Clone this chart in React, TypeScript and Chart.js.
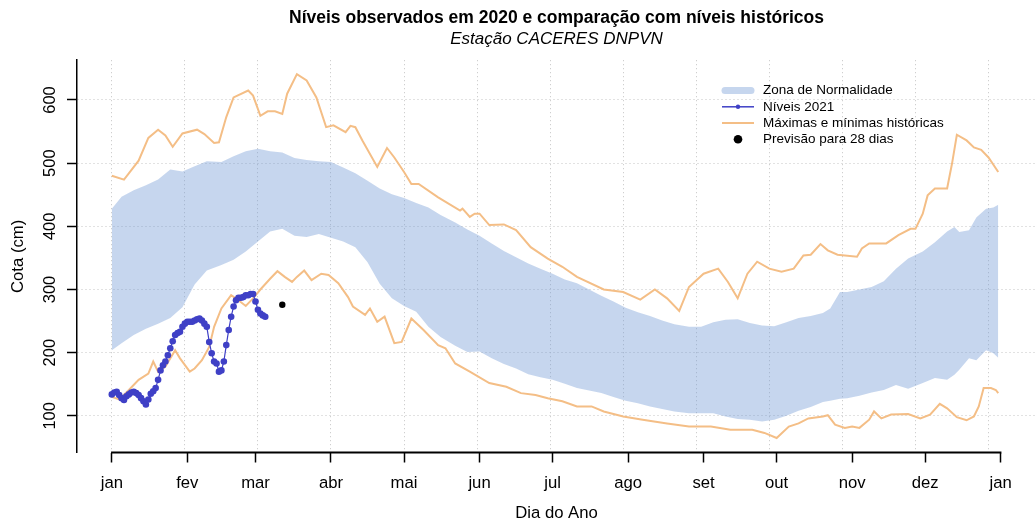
import React, { useEffect, useRef } from "react";
import { Chart, registerables } from "chart.js";

Chart.register(...registerables);

const FONT = '"Liberation Sans", Arial, Helvetica, sans-serif';

const TITLE = "Níveis observados em 2020 e comparação com níveis históricos";
const SUBTITLE = "Estação CACERES DNPVN";
const X_TITLE = "Dia do Ano";
const Y_TITLE = "Cota (cm)";

const MONTH_DAYS = [1, 32, 60, 91, 121, 152, 182, 213, 244, 274, 305, 335, 366];
const MONTH_LABELS = ["jan", "fev", "mar", "abr", "mai", "jun", "jul", "ago", "set", "out", "nov", "dez", "jan"];
const GRID_DAYS = [1, 31, 61, 91, 121, 151, 181, 211, 241, 271, 301, 331, 361];
const Y_TICKS = [100, 200, 300, 400, 500, 600];
const X_MIN = -13.3;
const X_MAX = 380.5;
const Y_MIN = 42;
const Y_MAX = 663;

const LEGEND_LABELS = ["Zona de Normalidade", "Níveis 2021", "Máximas e mínimas históricas", "Previsão para 28 dias"];

// Zona de normalidade (upper / lower limits)
const BAND_DAYS = [1, 5, 10, 15, 20, 25, 30, 35, 40, 46, 51, 56, 61, 66, 71, 76, 81, 86, 91, 96, 101, 106, 111, 116, 121, 126, 131, 136, 142, 147, 152, 157, 162, 167, 172, 177, 182, 187, 192, 197, 202, 207, 212, 217, 222, 227, 232, 238, 243, 248, 253, 258, 263, 268, 273, 278, 283, 288, 293, 296, 300, 303, 308, 313, 318, 323, 328, 334, 339, 344, 347, 349, 353, 356, 360, 363, 365];
const BAND_UPPER = [428, 447, 457, 465, 474, 490, 487, 495, 503, 502, 511, 519, 523, 519, 517, 508, 505, 503, 502, 493, 484, 472, 460, 451, 445, 437, 430, 418, 406, 395, 385, 373, 361, 351, 341, 333, 325, 316, 310, 300, 290, 281, 271, 264, 258, 251, 245, 241, 241, 248, 252, 253, 247, 243, 242, 248, 255, 258, 263, 270, 296, 296, 300, 304, 313, 333, 349, 360, 375, 392, 399, 391, 394, 414, 428, 430, 434];
const BAND_LOWER = [204, 215, 228, 238, 246, 255, 272, 308, 330, 339, 347, 360, 376, 392, 396, 385, 383, 388, 382, 376, 367, 343, 309, 286, 274, 265, 241, 225, 211, 201, 202, 191, 182, 175, 166, 161, 157, 151, 144, 140, 136, 130, 124, 120, 115, 111, 107, 104, 104, 104, 99, 95, 94, 91, 94, 100, 108, 114, 122, 124, 127, 128, 132, 137, 141, 149, 143, 152, 160, 157, 165, 173, 191, 188, 204, 199, 192];

// Máximas históricas
const MAX_DAYS = [1, 6, 12, 16, 20, 23, 26, 30, 36, 39, 43, 45, 48, 51, 57, 59, 62, 65, 68, 71, 73, 77, 81, 85, 89, 92, 97, 99, 101, 104, 110, 114, 117, 121, 124, 127, 135, 144, 145, 148, 150, 152, 156, 162, 167, 173, 180, 186, 192, 203, 211, 218, 224, 229, 234, 238, 244, 250, 254, 258, 262, 266, 271, 276, 281, 285, 288, 292, 295, 299, 307, 309, 312, 319, 324, 329, 331, 334, 336, 339, 344, 346, 348, 352, 355, 358, 361, 365];
const MAX_VALUES = [480, 474, 504, 540, 553, 544, 526, 547, 553, 546, 532, 533, 573, 604, 615, 607, 575, 582, 582, 578, 610, 641, 631, 604, 557, 560, 549, 559, 557, 535, 494, 524, 509, 486, 467, 467, 446, 425, 428, 415, 420, 420, 402, 403, 394, 367, 349, 336, 320, 300, 296, 284, 300, 286, 266, 304, 325, 333, 312, 286, 325, 344, 333, 328, 333, 354, 355, 372, 362, 355, 352, 365, 373, 373, 386, 396, 396, 420, 449, 460, 460, 499, 545, 536, 525, 521, 509, 486];

// Mínimas históricas
const MIN_DAYS = [1, 4, 8, 12, 16, 18, 20, 23, 27, 29, 33, 35, 38, 41, 43, 46, 50, 53, 56, 59, 62, 66, 69, 72, 75, 77, 80, 83, 87, 90, 94, 98, 100, 105, 107, 110, 113, 117, 120, 124, 129, 135, 138, 142, 148, 156, 163, 169, 175, 180, 186, 192, 198, 203, 211, 219, 229, 238, 247, 255, 264, 269, 274, 279, 283, 287, 293, 295, 298, 302, 305, 308, 312, 314, 317, 321, 328, 333, 337, 341, 344, 348, 352, 355, 357, 359, 362, 364, 365];
const MIN_VALUES = [130, 126, 141, 157, 167, 186, 170, 178, 204, 191, 170, 175, 188, 209, 241, 270, 291, 283, 274, 286, 300, 317, 329, 320, 312, 320, 330, 315, 325, 323, 310, 288, 273, 260, 270, 249, 257, 215, 217, 254, 236, 212, 207, 183, 170, 152, 146, 136, 133, 128, 123, 115, 115, 107, 99, 94, 88, 83, 83, 78, 78, 73, 65, 83, 88, 96, 99, 101, 86, 81, 83, 81, 94, 107, 96, 102, 103, 96, 102, 119, 112, 98, 93, 99, 115, 144, 144, 141, 136];

// Níveis observados
const LEVEL_DAYS = [1, 2, 3, 4, 5, 6, 7, 8, 9, 10, 11, 12, 13, 14, 15, 16, 17, 18, 19, 20, 21, 22, 23, 24, 25, 26, 27, 28, 29, 30, 31, 32, 33, 34, 35, 36, 37, 38, 39, 40, 41, 42, 43, 44, 45, 46, 47, 48, 49, 50, 51, 52, 53, 54, 55, 56, 57, 58, 59, 60, 61, 62, 63, 64];
const LEVEL_VALUES = [134, 137, 138, 133, 128, 125, 131, 134, 137, 138, 136, 133, 128, 123, 118, 126, 135, 139, 144, 157, 172, 180, 186, 196, 207, 218, 228, 231, 233, 241, 246, 249, 249, 249, 251, 253, 254, 251, 246, 241, 217, 199, 186, 183, 170, 172, 186, 212, 236, 257, 273, 283, 287, 287, 288, 291, 291, 293, 293, 281, 268, 262, 259, 257];

// Previsão
const FORECAST_DAYS = [71];
const FORECAST_VALUES = [276];

const BAND_COLOR = "rgba(112,153,213,0.4)";
const ORANGE = "#F4BE86";
const BLUE = "#3F40C6";
const GRID_COLOR = "#C4C4C4";

const toXY = (xs: number[], ys: number[]) => xs.map((x, i) => ({ x, y: ys[i] }));

const axesPlugin = {
  id: "rAxes",
  afterDraw(chart: any) {
    const ctx = chart.ctx;
    const xs = chart.scales.x;
    const ys = chart.scales.y;
    const bottom = chart.chartArea.bottom;
    ctx.save();
    ctx.strokeStyle = "#000";
    ctx.lineWidth = 2;
    ctx.setLineDash([]);
    ctx.beginPath();
    ctx.moveTo(xs.getPixelForValue(MONTH_DAYS[0]) - 0.75, bottom);
    ctx.lineTo(xs.getPixelForValue(MONTH_DAYS[MONTH_DAYS.length - 1]) + 0.75, bottom);
    ctx.stroke();
    ctx.font = `16.5px ${FONT}`;
    ctx.fillStyle = "#000";
    ctx.textAlign = "center";
    ctx.textBaseline = "middle";
    for (const v of Y_TICKS) {
      const py = ys.getPixelForValue(v);
      ctx.save();
      ctx.translate(ys.right - 27, py);
      ctx.rotate(-Math.PI / 2);
      ctx.fillText(String(v), 0, 0);
      ctx.restore();
    }
    ctx.restore();
  },
};

const legendPlugin = {
  id: "rLegend",
  afterDraw(chart: any) {
    const ctx = chart.ctx;
    const x0 = 722;
    const x1 = 754;
    const xc = (x0 + x1) / 2;
    const tx = 763;
    const rows = [90.5, 106.8, 123, 139.3];
    ctx.save();
    ctx.setLineDash([]);
    ctx.strokeStyle = BAND_COLOR;
    ctx.lineCap = "round";
    ctx.lineWidth = 7;
    ctx.beginPath();
    ctx.moveTo(x0 + 3, rows[0]);
    ctx.lineTo(x1 - 3, rows[0]);
    ctx.stroke();
    ctx.lineCap = "butt";
    ctx.strokeStyle = BLUE;
    ctx.lineWidth = 1.5;
    ctx.beginPath();
    ctx.moveTo(x0, rows[1]);
    ctx.lineTo(x1, rows[1]);
    ctx.stroke();
    ctx.fillStyle = BLUE;
    ctx.beginPath();
    ctx.arc(xc, rows[1], 2.2, 0, Math.PI * 2);
    ctx.fill();
    ctx.strokeStyle = ORANGE;
    ctx.lineWidth = 2;
    ctx.beginPath();
    ctx.moveTo(x0, rows[2]);
    ctx.lineTo(x1, rows[2]);
    ctx.stroke();
    ctx.fillStyle = "#000";
    ctx.beginPath();
    ctx.arc(xc, rows[3], 4.3, 0, Math.PI * 2);
    ctx.fill();
    ctx.font = `13.5px ${FONT}`;
    ctx.fillStyle = "#000";
    ctx.textAlign = "left";
    ctx.textBaseline = "middle";
    LEGEND_LABELS.forEach((t, i) => ctx.fillText(t, tx, rows[i]));
    ctx.restore();
  },
};

export default function App() {
  const ref = useRef<HTMLCanvasElement | null>(null);

  useEffect(() => {
    if (!ref.current) return;
    Chart.defaults.font.family = FONT;
    Chart.defaults.color = "#000";
    const chart = new Chart(ref.current, {
      type: "line",
      data: {
        datasets: [
          {
            label: LEGEND_LABELS[3],
            data: toXY(FORECAST_DAYS, FORECAST_VALUES),
            showLine: false,
            pointRadius: 3.2,
            pointBackgroundColor: "#000",
            pointBorderWidth: 0,
            order: 0,
          },
          {
            label: LEGEND_LABELS[1],
            data: toXY(LEVEL_DAYS, LEVEL_VALUES),
            borderColor: BLUE,
            borderWidth: 1.2,
            pointRadius: 3.3,
            pointBackgroundColor: BLUE,
            pointBorderWidth: 0,
            fill: false,
            tension: 0,
            order: 1,
          },
          {
            label: LEGEND_LABELS[2],
            data: toXY(MAX_DAYS, MAX_VALUES),
            borderColor: ORANGE,
            borderWidth: 2,
            pointRadius: 0,
            fill: false,
            order: 2,
          },
          {
            label: "Mínimas históricas",
            data: toXY(MIN_DAYS, MIN_VALUES),
            borderColor: ORANGE,
            borderWidth: 2,
            pointRadius: 0,
            fill: false,
            order: 2,
          },
          {
            label: LEGEND_LABELS[0],
            data: toXY(BAND_DAYS, BAND_UPPER),
            borderColor: "rgba(0,0,0,0)",
            borderWidth: 0,
            pointRadius: 0,
            backgroundColor: BAND_COLOR,
            fill: "+1",
            order: 3,
          },
          {
            label: "Zona inferior",
            data: toXY(BAND_DAYS, BAND_LOWER),
            borderColor: "rgba(0,0,0,0)",
            borderWidth: 0,
            pointRadius: 0,
            fill: false,
            order: 3,
          },
        ],
      },
      options: {
        responsive: false,
        animation: false,
        devicePixelRatio: 1,
        events: [],
        layout: { padding: 0 },
        plugins: {
          legend: { display: false },
          tooltip: { enabled: false },
          title: {
            display: true,
            text: TITLE,
            fullSize: false,
            color: "#000",
            font: { size: 17.5, weight: "bold", family: FONT, lineHeight: 1.2 },
            padding: { top: 8, bottom: 0 },
          },
          subtitle: {
            display: true,
            text: SUBTITLE,
            fullSize: false,
            color: "#000",
            font: { size: 17, style: "italic", family: FONT, lineHeight: 1.2 },
            padding: { top: 0, bottom: 10.8 },
          },
        },
        scales: {
          x: {
            type: "linear",
            position: "bottom",
            min: X_MIN,
            max: X_MAX,
            afterBuildTicks: (s: any) => {
              s.ticks = MONTH_DAYS.map((v) => ({ value: v }));
            },
            afterFit: (s: any) => {
              s.height = 70.5;
            },
            ticks: {
              autoSkip: false,
              maxRotation: 0,
              minRotation: 0,
              padding: 11,
              color: "#000",
              font: { size: 16.7, family: FONT, lineHeight: 1.2 },
              callback: (_v: any, i: number) => MONTH_LABELS[i],
            },
            grid: {
              display: true,
              drawOnChartArea: false,
              drawTicks: true,
              tickLength: 10,
              tickColor: "#000",
              tickWidth: 1.5,
              tickBorderDash: [],
            },
            border: { display: false },
            title: {
              display: true,
              text: X_TITLE,
              color: "#000",
              font: { size: 16.7, family: FONT, lineHeight: 1.2 },
              padding: { top: 0, bottom: 0 },
            },
          },
          xg: {
            type: "linear",
            position: "bottom",
            min: X_MIN,
            max: X_MAX,
            afterBuildTicks: (s: any) => {
              s.ticks = GRID_DAYS.map((v) => ({ value: v }));
            },
            afterFit: (s: any) => {
              s.height = 0;
            },
            ticks: { display: false },
            grid: {
              display: true,
              drawOnChartArea: true,
              drawTicks: false,
              color: GRID_COLOR,
              lineWidth: 1,
            },
            border: { display: false, dash: [1, 3] },
          },
          y: {
            type: "linear",
            position: "left",
            min: Y_MIN,
            max: Y_MAX,
            afterBuildTicks: (s: any) => {
              s.ticks = Y_TICKS.map((v) => ({ value: v }));
            },
            afterFit: (s: any) => {
              s.width = 77;
            },
            ticks: { display: false },
            grid: {
              display: true,
              drawOnChartArea: true,
              drawTicks: true,
              tickLength: 10,
              tickColor: "#000",
              tickWidth: 1.5,
              tickBorderDash: [],
              color: GRID_COLOR,
              lineWidth: 1,
            },
            border: { display: true, color: "#000", width: 1.5, dash: [1, 3] },
            title: {
              display: true,
              text: Y_TITLE,
              color: "#000",
              font: { size: 16.7, family: FONT, lineHeight: 1.2 },
              padding: { top: 8, bottom: 0 },
            },
          },
        },
      },
      plugins: [axesPlugin, legendPlugin],
    } as any);
    return () => chart.destroy();
  }, []);

  return (
    <div
      style={{
        position: "fixed",
        left: 0,
        top: 0,
        width: 1035,
        height: 523,
        overflow: "hidden",
        background: "#fff",
      }}
    >
      <canvas ref={ref} width={1040} height={523} style={{ display: "block", width: 1040, height: 523 }} />
    </div>
  );
}
